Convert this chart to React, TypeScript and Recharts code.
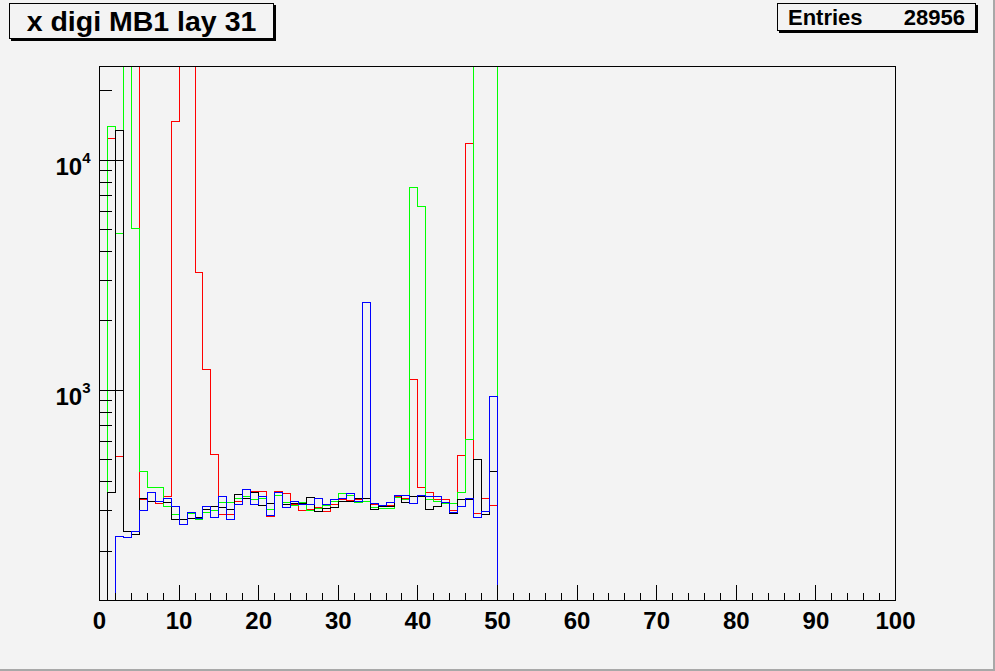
import React from 'react';
import { LineChart, Line, XAxis, YAxis } from 'recharts';

// bin contents, bins of width 1 starting at x = 0 (0 = empty bin)
const blackCounts = [
  0, 361, 13490, 244, 237, 340, 330, 330, 326, 275,
  275, 278, 281, 304, 311, 310, 304, 354, 340, 361,
  315, 323, 358, 320, 323, 322, 343, 298, 305, 310,
  330, 330, 340, 340, 304, 314, 314, 350, 326, 347,
  347, 304, 314, 326, 292, 334, 336, 499, 287, 443,
];
const redCounts = [
  0, 12370, 516, 40000, 40000, 335, 330, 323, 347, 14700,
  40000, 40000, 3236, 1228, 528, 287, 287, 330, 345, 364,
  362, 283, 362, 355, 320, 300, 302, 310, 298, 320,
  335, 332, 335, 330, 320, 314, 316, 345, 340, 1118,
  376, 358, 334, 334, 300, 519, 11760, 292, 340, 315,
];
const greenCounts = [
  0, 13950, 4780, 40000, 5020, 445, 376, 376, 311, 287,
  275, 290, 273, 295, 301, 326, 326, 340, 347, 334,
  340, 302, 350, 325, 315, 325, 300, 305, 315, 330,
  355, 350, 325, 328, 310, 307, 307, 343, 336, 7570,
  6280, 334, 330, 323, 323, 358, 609, 40000, 40000, 40000,
];
const blueCounts = [
  0, 0, 232, 228, 244, 301, 361, 330, 337, 314,
  262, 295, 278, 311, 281, 347, 275, 320, 372, 320,
  345, 285, 358, 310, 330, 318, 320, 340, 320, 335,
  340, 355, 330, 2400, 323, 315, 326, 350, 350, 323,
  350, 347, 347, 326, 295, 314, 340, 281, 298, 937,
];

const xTicks = [
  0, 2, 4, 6, 8, 10, 12, 14, 16, 18, 20, 22, 24, 26, 28, 30, 32, 34, 36, 38, 40,
  42, 44, 46, 48, 50, 52, 54, 56, 58, 60, 62, 64, 66, 68, 70, 72, 74, 76, 78, 80,
  82, 84, 86, 88, 90, 92, 94, 96, 98, 100,
];
const yTicks = [
  200, 300, 400, 500, 600, 700, 800, 900, 1000,
  2000, 3000, 4000, 5000, 6000, 7000, 8000, 9000, 10000, 20000,
];
const yLabels: Record<number, string> = { 1000: '3', 10000: '4' };

const title = 'x digi MB1 lay 31';
const entries = 28956;

// empty bins sit below the log axis, the clip hides them
const floor = (v?: number) => (v && v > 0 ? v : 1);

const rows = blackCounts.concat([0]).map((_, i) => ({
  x: i,
  black: floor(blackCounts[i]),
  red: floor(redCounts[i]),
  green: floor(greenCounts[i]),
  blue: floor(blueCounts[i]),
}));

const FONT = '"Liberation Sans", Arial, Helvetica, sans-serif';
const BG = '#f3f3f3';

function XTick(props: any) {
  const { x, y, payload } = props;
  const major = payload.value % 10 === 0;
  return (
    <g>
      <line x1={x} x2={x} y1={y} y2={y - (major ? 16 : 8)} stroke="#000" shapeRendering="crispEdges" />
      {major && (
        <text x={x} y={y + 28} textAnchor="middle" fontFamily={FONT} fontWeight="bold" fontSize={24} fill="#000">
          {payload.value}
        </text>
      )}
    </g>
  );
}

function YTick(props: any) {
  const { x, y, payload } = props;
  const sup = yLabels[payload.value];
  return (
    <g>
      <line x1={x} x2={x + (sup ? 23 : 12)} y1={y} y2={y} stroke="#000" shapeRendering="crispEdges" />
      {sup && (
        <text x={x - 9} y={y + 15} textAnchor="end" fontFamily={FONT} fontWeight="bold" fontSize={24} fill="#000">
          10
          <tspan dy={-12} fontSize={15}>{sup}</tspan>
        </text>
      )}
    </g>
  );
}

export default function App() {
  return (
    <div
      style={{
        position: 'absolute',
        left: 0,
        top: 0,
        width: 993,
        height: 669,
        background: BG,
        borderRight: '2px solid #a8a8a8',
        borderBottom: '2px solid #a8a8a8',
        fontFamily: FONT,
      }}
    >
      <div style={{ position: 'absolute', left: 0, top: 0 }}>
        <LineChart width={995} height={671} data={rows} margin={{ top: 66.5, right: 99.5, bottom: 0, left: 0.5 }}>
          <XAxis
            dataKey="x"
            type="number"
            domain={[0, 100]}
            ticks={xTicks}
            interval={0}
            height={70.5}
            axisLine={false}
            tickLine={false}
            tickSize={0}
            tickMargin={0}
            tick={(p: any) => <XTick {...p} />}
          />
          <YAxis
            type="number"
            scale="log"
            domain={[122, 25500]}
            allowDataOverflow
            ticks={yTicks}
            interval={0}
            width={99}
            axisLine={false}
            tickLine={false}
            tickSize={0}
            tickMargin={0}
            tick={(p: any) => <YTick {...p} />}
          />
          <Line dataKey="red" type="stepAfter" stroke="#ff0000" strokeWidth={1} dot={false} isAnimationActive={false} shapeRendering="crispEdges" />
          <Line dataKey="green" type="stepAfter" stroke="#00ff00" strokeWidth={1} dot={false} isAnimationActive={false} shapeRendering="crispEdges" />
          <Line dataKey="black" type="stepAfter" stroke="#000000" strokeWidth={1} dot={false} isAnimationActive={false} shapeRendering="crispEdges" />
          <Line dataKey="blue" type="stepAfter" stroke="#0000ff" strokeWidth={1} dot={false} isAnimationActive={false} shapeRendering="crispEdges" />
        </LineChart>
      </div>

      {/* frame */}
      <div
        style={{
          position: 'absolute',
          left: 99,
          top: 66,
          width: 797,
          height: 535,
          boxSizing: 'border-box',
          border: '1px solid #000',
          pointerEvents: 'none',
        }}
      />

      {/* title box */}
      <div
        style={{
          position: 'absolute',
          left: 9,
          top: 3,
          width: 265,
          height: 36,
          boxSizing: 'border-box',
          border: '1px solid #000',
          boxShadow: '2px 2px 0 #000',
          background: BG,
          fontWeight: 'bold',
          fontSize: 28.5,
          lineHeight: '34px',
          textAlign: 'center',
        }}
      >
        {title}
      </div>

      {/* stats box */}
      <div
        style={{
          position: 'absolute',
          left: 777,
          top: 3,
          width: 199,
          height: 28,
          boxSizing: 'border-box',
          border: '1px solid #000',
          boxShadow: '2px 2px 0 #000',
          background: BG,
          fontWeight: 'bold',
          fontSize: 22,
          lineHeight: '27px',
        }}
      >
        <span style={{ position: 'absolute', left: 10 }}>Entries</span>
        <span style={{ position: 'absolute', right: 10 }}>{entries}</span>
      </div>
    </div>
  );
}
